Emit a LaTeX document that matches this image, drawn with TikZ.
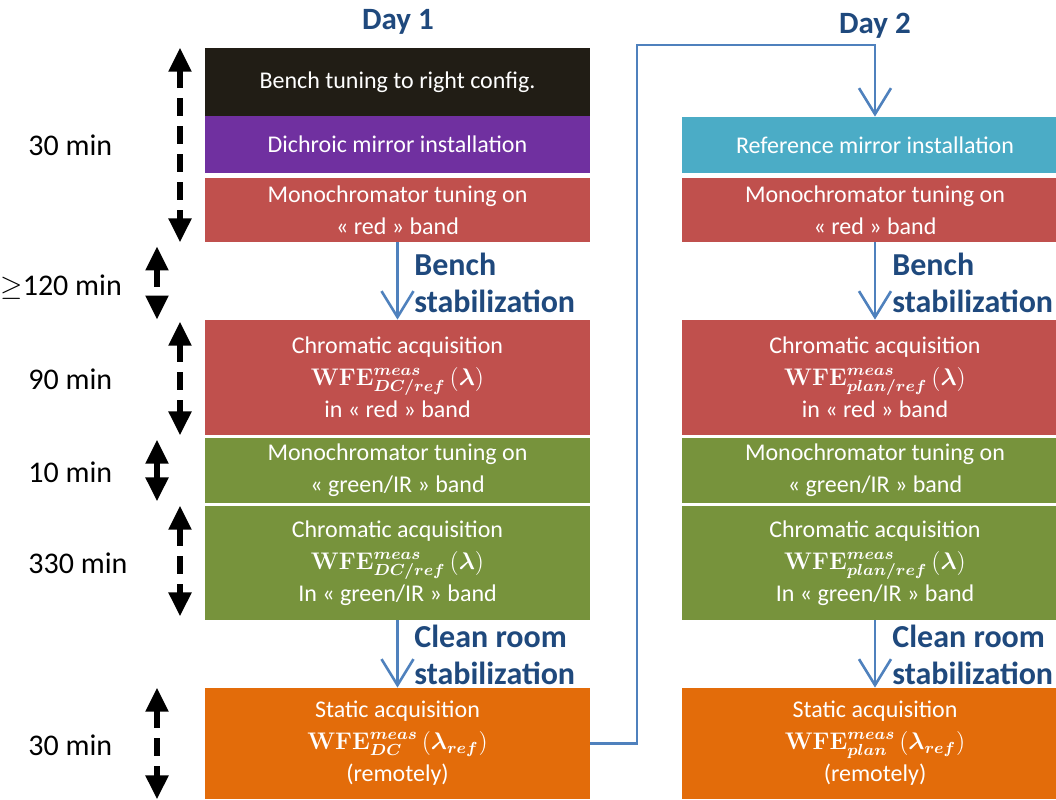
\documentclass[tikz,border=0pt]{standalone}
\usepackage{amsmath}
\usepackage[no-math]{fontspec}
\setmainfont{Carlito}
\usepackage{xcolor}
\usepackage{tikz}
\usetikzlibrary{arrows.meta}
\definecolor{cblack}{RGB}{33,29,21}
\definecolor{cpurple}{RGB}{112,48,160}
\definecolor{cred}{RGB}{192,80,77}
\definecolor{cgreen}{RGB}{119,147,60}
\definecolor{corange}{RGB}{227,108,10}
\definecolor{ccyan}{RGB}{75,172,198}
\definecolor{cflow}{RGB}{79,129,189}
\definecolor{cday}{RGB}{31,73,125}
\newcommand{\wfe}[2]{$\mathbf{WFE}^{\boldsymbol{meas}}_{\boldsymbol{#1}}\left(\boldsymbol{#2}\right)$}
\tikzset{
  tpic/.style={x=0.5pt, y=0.5pt},
  t box/.style={text=white, align=center, inner sep=0pt, font=\fontsize{12}{16}\selectfont},
  t left/.style={t box, minimum width=192.5pt},
  t right/.style={t box, minimum width=193pt},
  t day/.style={font=\fontsize{15.5}{18}\selectfont\bfseries, text=cday},
  t stab/.style={font=\fontsize{16}{18.5}\selectfont\bfseries, text=cday, align=left, anchor=west, inner sep=0pt},
  t dur/.style={font=\fontsize{15}{18}\selectfont, anchor=west, inner sep=0pt},
  t span/.style={>={Triangle[length=12pt, width=11pt]}, <->, line width=2.6pt, dash pattern=on 9pt off 5pt},
  t flow/.style={draw=cflow, line width=1.3pt, -{Straight Barb[length=13pt, width=16pt]}},
}

\begin{document}
\begin{tikzpicture}[tpic]
\useasboundingbox (0, 0) rectangle (1056, -799);
% ---- Day 1 ----
\node[t day] (n1) at (398, -22) {Day 1};
\node[t left, fill=cblack,  minimum height=34pt]   (b1) at (397.5, -82)    {Bench tuning to right config.};
\node[t left, fill=cpurple, minimum height=28.5pt] (b2) at (397.5, -144.5) {Dichroic mirror installation};
\node[t left, fill=cred,    minimum height=32pt]   (b3) at (397.5, -210)   {Monochromator tuning on\\« red » band};
\node[t left, fill=cred,    minimum height=57.5pt] (b4) at (397.5, -377.5) {Chromatic acquisition\\\wfe{DC/ref}{\lambda}\\in « red » band};
\node[t left, fill=cgreen,  minimum height=32.5pt] (b5) at (397.5, -470.5) {Monochromator tuning on\\« green/IR » band};
\node[t left, fill=cgreen,  minimum height=57pt]   (b6) at (397.5, -563)   {Chromatic acquisition\\\wfe{DC/ref}{\lambda}\\In « green/IR » band};
\node[t left, fill=corange, minimum height=55.5pt] (b7) at (397.5, -743.5) {Static acquisition\\\wfe{DC}{\lambda_{ref}}\\(remotely)};
\node[t stab] (s1) at (414, -283) {Bench\\stabilization};
\node[t stab] (s3) at (414, -655) {Clean room\\stabilization};
\draw[t flow] (b3) -- (b4);
\draw[t flow] (b6) -- (b7);
% ---- durations ----
\coordinate (ka) at (180, 0);
\coordinate (kb) at (157, 0);
\node[t dur] (d1) at (28, -145) {30 min};
\node[t dur] (d2) at (0, -287)  {$\geq$120 min};
\node[t dur] (d3) at (28, -379) {90 min};
\node[t dur] (d4) at (28, -472) {10 min};
\node[t dur] (d5) at (28, -563) {330 min};
\node[t dur] (d6) at (28, -745) {30 min};
\draw[t span] (b1.north -| ka) -- (b3.south -| ka);
\draw[t span] ([yshift=-2pt]b3.south -| kb) -- (b4.north -| kb);
\draw[t span] ([yshift=-1pt]b4.north -| ka) -- (b4.south -| ka);
\draw[t span] ([yshift=-1pt]b5.north -| kb) -- ([yshift=1pt]b5.south -| kb);
\draw[t span] (b6.north -| ka) -- ([yshift=2pt]b6.south -| ka);
\draw[t span] (b7.north -| kb) -- (b7.south -| kb);
% ---- Day 2 ----
\node[t day] (n2) at (875, -26) {Day 2};
\node[t right, fill=ccyan,   minimum height=28pt]   (r2) at (875, -145)   {Reference mirror installation};
\node[t right, fill=cred,    minimum height=32pt]   (r3) at (875, -210)   {Monochromator tuning on\\« red » band};
\node[t right, fill=cred,    minimum height=57.5pt] (r4) at (875, -377.5) {Chromatic acquisition\\\wfe{plan/ref}{\lambda}\\in « red » band};
\node[t right, fill=cgreen,  minimum height=32.5pt] (r5) at (875, -470.5) {Monochromator tuning on\\« green/IR » band};
\node[t right, fill=cgreen,  minimum height=57pt]   (r6) at (875, -563)   {Chromatic acquisition\\\wfe{plan/ref}{\lambda}\\In « green/IR » band};
\node[t right, fill=corange, minimum height=55.5pt] (r7) at (875, -743.5) {Static acquisition\\\wfe{plan}{\lambda_{ref}}\\(remotely)};
\node[t stab] (s2) at (892, -283) {Bench\\stabilization};
\node[t stab] (s4) at (892, -655) {Clean room\\stabilization};
\draw[t flow] (r3) -- (r4);
\draw[t flow] (r6) -- (r7);
% ---- day change ----
\coordinate (lp) at (637, -45);
\draw[t flow] (b7.east) -| (lp) -| (r2.north);
\end{tikzpicture}
\end{document}
